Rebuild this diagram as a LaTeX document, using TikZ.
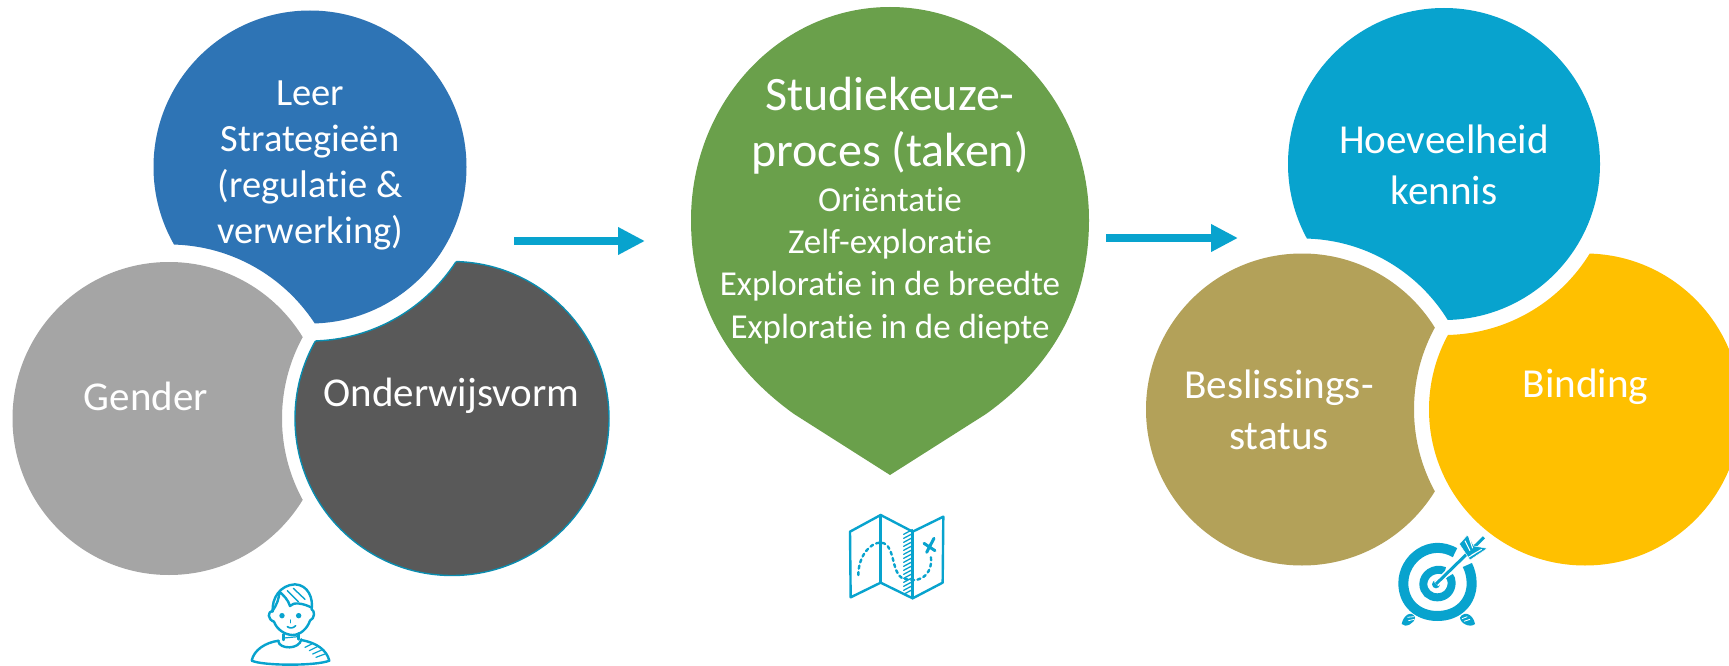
\documentclass[tikz,border=0pt]{standalone}
\usepackage{fontspec}
\setmainfont{Carlito}[Ligatures=NoCommon]
\usetikzlibrary{arrows.meta}
\definecolor{cblue}{HTML}{2E74B5}
\definecolor{cgray}{HTML}{A5A5A5}
\definecolor{cdark}{HTML}{595959}
\definecolor{cgreen}{HTML}{6AA04B}
\definecolor{cteal}{HTML}{08A3CE}
\definecolor{cedge}{HTML}{0A8DB0}
\definecolor{ctan}{HTML}{B3A159}
\definecolor{cyellow}{HTML}{FFC000}
\tikzset{
  lab/.style={text=white,align=center,inner sep=0pt,anchor=center},
  flowarrow/.style={draw=cteal,line width=8pt,-{Triangle[length=27pt,width=26pt]}},
  ink/.style={draw=cteal,line width=2.4pt,line cap=round,line join=round,fill=none},
  inkthin/.style={draw=cteal,line width=1.3pt,line cap=round},
}
\newcommand{\cutdisk}[7]{% fill colour, cx, cy, r, cut cx, cut cy, cut r
  \begin{scope}[even odd rule]
    \clip (-20,-20) rectangle (1760,700) (#5,#6) circle (#7pt);
    \fill[#1] (#2,#3) circle (#4pt);
  \end{scope}}
\begin{document}
\begin{tikzpicture}[x=1pt,y=-1pt]
\useasboundingbox (0,0) rectangle (1729,666);
\clip (0,0) rectangle (1729,666);
\fill[white] (0,0) rectangle (1729,666);
% left group
\cutdisk{cblue}{310}{167}{156.5}{169}{418.5}{174}
\cutdisk{cgray}{169}{418.5}{156.5}{452}{418.5}{170}
\begin{scope}[even odd rule]
  \clip (-20,-20) rectangle (1760,700) (310,167) circle (174pt);
  \filldraw[fill=cdark,draw=cedge,line width=1.4pt] (452,418.5) circle (157pt);
\end{scope}
\begin{scope}
  \clip (452,418.5) circle (157pt);
  \draw[cedge,line width=1.4pt] (310,167) circle (174pt);
\end{scope}
% green drop
\fill[cgreen] (691,220) .. controls (691,102.4) and (780,7) .. (890,7)
  .. controls (1000,7) and (1089,102.4) .. (1089,220)
  .. controls (1089,305) and (1050,368) .. (986,414) -- (890,475) -- (794,414)
  .. controls (730,368) and (691,305) .. (691,220) -- cycle;
% right group
\cutdisk{cteal}{1444}{164}{156}{1302}{409.5}{171}
\cutdisk{ctan}{1302}{409.5}{156}{1585}{409.5}{171}
\cutdisk{cyellow}{1585}{409.5}{156}{1444}{164}{171}
% labels
\node[lab,font=\fontsize{38.5}{46}\selectfont] (leer) at (310,165) {Leer\\Strategieën\\(regulatie \&\\verwerking)};
\node[lab,font=\fontsize{41}{46}\selectfont] (gender) at (146,396) {Gender};
\node[lab,font=\fontsize{41}{46}\selectfont] (onderwijs) at (451.5,396) {Onderwijsvorm};
\node[lab,font=\fontsize{48}{56}\selectfont] (studie) at (890,126) {Studiekeuze-\\proces (taken)};
\node[lab,font=\fontsize{35}{42.3}\selectfont] (taken) at (890,265.5) {Oriëntatie\\Zelf-exploratie\\Exploratie in de breedte\\Exploratie in de diepte};
\node[lab,font=\fontsize{41.2}{50.5}\selectfont] (kennis) at (1444,165) {Hoeveelheid\\kennis};
\node[lab,font=\fontsize{41.2}{50.5}\selectfont] (besl) at (1279,410) {Beslissings-\\status};
\node[lab,font=\fontsize{41.2}{50.5}\selectfont] (binding) at (1585.4,387) {Binding};
% arrows
\coordinate (a1s) at (514,241); \coordinate (a1e) at (645,241);
\coordinate (a2s) at (1106,238); \coordinate (a2e) at (1238,238);
\draw[flowarrow] (a1s) -- (a1e);
\draw[flowarrow] (a2s) -- (a2e);
% person icon
\begin{scope}[shift={(230,570)},x=0.3333pt,y=-0.3333pt]
  \draw[ink] (128,125) .. controls (125,85) and (150,45) .. (195,43) .. controls (235,45) and (250,85) .. (245,118);
  \draw[ink] (128,122) .. controls (112,125) and (112,148) .. (132,155) .. controls (140,178) and (165,195) .. (188,195) .. controls (212,195) and (232,175) .. (240,152) .. controls (255,145) and (255,122) .. (245,118);
  \draw[ink] (128,122) .. controls (140,105) and (148,85) .. (148,65) .. controls (160,75) and (175,90) .. (180,108) .. controls (190,95) and (220,100) .. (243,112);
  \draw[ink,line width=1.4pt] (172,62) -- (205,95) (190,55) -- (225,88);
  \fill[cteal] (156,137) circle (2.7pt) (206,137) circle (2.7pt);
  \draw[ink,line width=1.4pt] (182,150) -- (182,158);
  \draw[ink,line width=1.6pt] (172,170) .. controls (180,176) and (190,175) .. (197,167);
  \draw[ink] (160,193) -- (160,210) (206,190) -- (206,208);
  \draw[ink,line width=1.2pt] (162,204) -- (204,200);
  \draw[ink] (145,214) .. controls (148,238) and (208,240) .. (214,208);
  \draw[ink] (146,212) .. controls (105,218) and (72,240) .. (65,272) .. controls (100,288) and (260,288) .. (298,272) .. controls (290,240) and (260,218) .. (213,210);
  \draw[ink,line width=1.2pt] (225,232) -- (245,222) (238,242) -- (262,230) (248,252) -- (275,240) (258,262) -- (285,252);
\end{scope}
% map icon
\begin{scope}[shift={(830,500)},x=0.3333pt,y=-0.3333pt]
  \draw[ink] (60,95) -- (152,45) -- (248,95) -- (340,50) -- (338,248) -- (248,295) -- (152,248) -- (62,292) -- cycle;
  \draw[ink] (152,45) -- (152,248) (248,95) -- (248,295);
  \foreach \yy in {95,107,...,285} \draw[inkthin] (221,\yy+8) -- (247,\yy-6);
  \draw[ink,dash pattern=on 3pt off 3.4pt] (85,225) .. controls (85,170) and (120,125) .. (155,128) .. controls (200,135) and (180,235) .. (230,238) .. controls (280,250) and (310,215) .. (302,165);
  \draw[ink,line width=3pt] (282,130) -- (315,152) (312,115) -- (290,157);
\end{scope}
% target icon
\begin{scope}[shift={(1380,520)},x=0.3333pt,y=-0.3333pt]
  \draw[cteal,line width=10pt] (225,98) .. controls (150,55) and (70,115) .. (70,190) .. controls (70,250) and (115,288) .. (172,288) .. controls (235,288) and (275,245) .. (275,190) .. controls (275,170) and (270,150) .. (262,135);
  \draw[cteal,line width=8pt] (195,153) .. controls (160,140) and (130,165) .. (130,192) .. controls (130,215) and (148,232) .. (172,232) .. controls (198,232) and (215,212) .. (215,188) .. controls (215,180) and (212,172) .. (208,168);
  \fill[cteal] (168,193) circle (4pt);
  \draw[white,line width=6pt] (168,192) -- (240,120);
  \draw[cteal,line width=3pt] (168,192) -- (312,52);
  \filldraw[fill=cteal,draw=white,line width=0.5pt] (262,45) -- (238,72) -- (270,120) -- (322,85) -- (282,78) -- cycle;
  \draw[white,line width=1pt] (255,62) -- (270,92) (268,55) -- (278,85) (275,105) -- (305,88) (265,112) -- (285,100);
  \fill[cteal] (65,312) .. controls (70,285) and (95,270) .. (105,292) .. controls (105,310) and (75,325) .. (65,312) -- cycle;
  \fill[cteal] (285,312) .. controls (280,285) and (255,270) .. (240,292) .. controls (240,310) and (270,325) .. (285,312) -- cycle;
  \draw[white,line width=0.8pt] (82,292) -- (102,290) (85,302) -- (103,298) (262,290) -- (246,296) (270,298) -- (252,304);
\end{scope}
\end{tikzpicture}
\end{document}
